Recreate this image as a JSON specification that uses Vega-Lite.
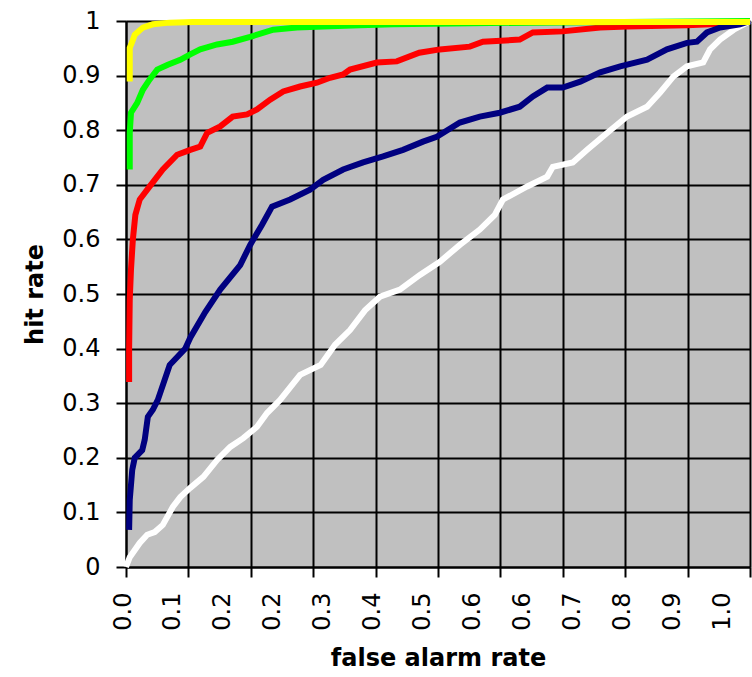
{
  "$schema": "https://vega.github.io/schema/vega-lite/v6.json",
  "width": 624,
  "height": 546,
  "autosize": {"type": "none"},
  "padding": {"left": 126, "top": 21, "right": 2, "bottom": 110},
  "background": "#ffffff",
  "config": {
    "view": {"fill": "#c0c0c0", "stroke": null},
    "axis": {
      "labelFont": "DejaVu Sans",
      "labelFontSize": 24,
      "labelColor": "#000000",
      "titleFont": "DejaVu Sans",
      "titleFontSize": 24,
      "titleFontWeight": "bold",
      "titleColor": "#000000"
    }
  },
  "data": {
    "values": [
      {"series": "red", "fpr": 0.005, "tpr": 0.339},
      {"series": "red", "fpr": 0.005, "tpr": 0.40},
      {"series": "red", "fpr": 0.006, "tpr": 0.49},
      {"series": "red", "fpr": 0.008, "tpr": 0.545},
      {"series": "red", "fpr": 0.011, "tpr": 0.60},
      {"series": "red", "fpr": 0.015, "tpr": 0.645},
      {"series": "red", "fpr": 0.022, "tpr": 0.673},
      {"series": "red", "fpr": 0.038, "tpr": 0.697},
      {"series": "red", "fpr": 0.059, "tpr": 0.728},
      {"series": "red", "fpr": 0.082, "tpr": 0.755},
      {"series": "red", "fpr": 0.103, "tpr": 0.764},
      {"series": "red", "fpr": 0.119, "tpr": 0.77},
      {"series": "red", "fpr": 0.13, "tpr": 0.795},
      {"series": "red", "fpr": 0.151, "tpr": 0.807},
      {"series": "red", "fpr": 0.171, "tpr": 0.825},
      {"series": "red", "fpr": 0.194, "tpr": 0.829},
      {"series": "red", "fpr": 0.21, "tpr": 0.838},
      {"series": "red", "fpr": 0.231, "tpr": 0.856},
      {"series": "red", "fpr": 0.252, "tpr": 0.871},
      {"series": "red", "fpr": 0.279, "tpr": 0.88},
      {"series": "red", "fpr": 0.306, "tpr": 0.887},
      {"series": "red", "fpr": 0.327, "tpr": 0.896},
      {"series": "red", "fpr": 0.348, "tpr": 0.902},
      {"series": "red", "fpr": 0.359, "tpr": 0.911},
      {"series": "red", "fpr": 0.402, "tpr": 0.924},
      {"series": "red", "fpr": 0.434, "tpr": 0.926},
      {"series": "red", "fpr": 0.47, "tpr": 0.942},
      {"series": "red", "fpr": 0.503, "tpr": 0.948},
      {"series": "red", "fpr": 0.551, "tpr": 0.953},
      {"series": "red", "fpr": 0.572, "tpr": 0.962},
      {"series": "red", "fpr": 0.631, "tpr": 0.966},
      {"series": "red", "fpr": 0.652, "tpr": 0.979},
      {"series": "red", "fpr": 0.70, "tpr": 0.981},
      {"series": "red", "fpr": 0.76, "tpr": 0.988},
      {"series": "red", "fpr": 0.803, "tpr": 0.99},
      {"series": "red", "fpr": 0.899, "tpr": 0.992},
      {"series": "red", "fpr": 0.936, "tpr": 0.994},
      {"series": "red", "fpr": 0.984, "tpr": 0.997},
      {"series": "red", "fpr": 1.0, "tpr": 1.0},

      {"series": "white", "fpr": 0.0, "tpr": 0.0},
      {"series": "white", "fpr": 0.006, "tpr": 0.018},
      {"series": "white", "fpr": 0.022, "tpr": 0.044},
      {"series": "white", "fpr": 0.034, "tpr": 0.059},
      {"series": "white", "fpr": 0.046, "tpr": 0.064},
      {"series": "white", "fpr": 0.059, "tpr": 0.077},
      {"series": "white", "fpr": 0.075, "tpr": 0.11},
      {"series": "white", "fpr": 0.087, "tpr": 0.128},
      {"series": "white", "fpr": 0.103, "tpr": 0.145},
      {"series": "white", "fpr": 0.124, "tpr": 0.165},
      {"series": "white", "fpr": 0.146, "tpr": 0.196},
      {"series": "white", "fpr": 0.167, "tpr": 0.22},
      {"series": "white", "fpr": 0.188, "tpr": 0.236},
      {"series": "white", "fpr": 0.21, "tpr": 0.257},
      {"series": "white", "fpr": 0.226, "tpr": 0.282},
      {"series": "white", "fpr": 0.247, "tpr": 0.306},
      {"series": "white", "fpr": 0.279, "tpr": 0.352},
      {"series": "white", "fpr": 0.312, "tpr": 0.37},
      {"series": "white", "fpr": 0.335, "tpr": 0.407},
      {"series": "white", "fpr": 0.359, "tpr": 0.434},
      {"series": "white", "fpr": 0.383, "tpr": 0.47},
      {"series": "white", "fpr": 0.407, "tpr": 0.495},
      {"series": "white", "fpr": 0.439, "tpr": 0.508},
      {"series": "white", "fpr": 0.471, "tpr": 0.535},
      {"series": "white", "fpr": 0.503, "tpr": 0.559},
      {"series": "white", "fpr": 0.535, "tpr": 0.59},
      {"series": "white", "fpr": 0.567, "tpr": 0.618},
      {"series": "white", "fpr": 0.591, "tpr": 0.645},
      {"series": "white", "fpr": 0.604, "tpr": 0.673},
      {"series": "white", "fpr": 0.643, "tpr": 0.697},
      {"series": "white", "fpr": 0.675, "tpr": 0.715},
      {"series": "white", "fpr": 0.684, "tpr": 0.733},
      {"series": "white", "fpr": 0.716, "tpr": 0.741},
      {"series": "white", "fpr": 0.739, "tpr": 0.764},
      {"series": "white", "fpr": 0.771, "tpr": 0.795},
      {"series": "white", "fpr": 0.803, "tpr": 0.825},
      {"series": "white", "fpr": 0.835, "tpr": 0.843},
      {"series": "white", "fpr": 0.856, "tpr": 0.869},
      {"series": "white", "fpr": 0.877, "tpr": 0.898},
      {"series": "white", "fpr": 0.899, "tpr": 0.917},
      {"series": "white", "fpr": 0.925, "tpr": 0.924},
      {"series": "white", "fpr": 0.936, "tpr": 0.948},
      {"series": "white", "fpr": 0.952, "tpr": 0.966},
      {"series": "white", "fpr": 0.974, "tpr": 0.984},
      {"series": "white", "fpr": 0.99, "tpr": 0.994},
      {"series": "white", "fpr": 1.0, "tpr": 1.0},

      {"series": "navy", "fpr": 0.005, "tpr": 0.068},
      {"series": "navy", "fpr": 0.006, "tpr": 0.123},
      {"series": "navy", "fpr": 0.01, "tpr": 0.178},
      {"series": "navy", "fpr": 0.014, "tpr": 0.2},
      {"series": "navy", "fpr": 0.026, "tpr": 0.214},
      {"series": "navy", "fpr": 0.03, "tpr": 0.233},
      {"series": "navy", "fpr": 0.035, "tpr": 0.275},
      {"series": "navy", "fpr": 0.043, "tpr": 0.288},
      {"series": "navy", "fpr": 0.051, "tpr": 0.306},
      {"series": "navy", "fpr": 0.07, "tpr": 0.37},
      {"series": "navy", "fpr": 0.095, "tpr": 0.40},
      {"series": "navy", "fpr": 0.103, "tpr": 0.42},
      {"series": "navy", "fpr": 0.127, "tpr": 0.467},
      {"series": "navy", "fpr": 0.151, "tpr": 0.508},
      {"series": "navy", "fpr": 0.183, "tpr": 0.553},
      {"series": "navy", "fpr": 0.199, "tpr": 0.59},
      {"series": "navy", "fpr": 0.218, "tpr": 0.627},
      {"series": "navy", "fpr": 0.234, "tpr": 0.66},
      {"series": "navy", "fpr": 0.263, "tpr": 0.673},
      {"series": "navy", "fpr": 0.295, "tpr": 0.691},
      {"series": "navy", "fpr": 0.316, "tpr": 0.709},
      {"series": "navy", "fpr": 0.348, "tpr": 0.728},
      {"series": "navy", "fpr": 0.38, "tpr": 0.741},
      {"series": "navy", "fpr": 0.412, "tpr": 0.752},
      {"series": "navy", "fpr": 0.444, "tpr": 0.764},
      {"series": "navy", "fpr": 0.476, "tpr": 0.779},
      {"series": "navy", "fpr": 0.498, "tpr": 0.788},
      {"series": "navy", "fpr": 0.535, "tpr": 0.814},
      {"series": "navy", "fpr": 0.567, "tpr": 0.825},
      {"series": "navy", "fpr": 0.599, "tpr": 0.832},
      {"series": "navy", "fpr": 0.631, "tpr": 0.843},
      {"series": "navy", "fpr": 0.652, "tpr": 0.862},
      {"series": "navy", "fpr": 0.675, "tpr": 0.878},
      {"series": "navy", "fpr": 0.70, "tpr": 0.878},
      {"series": "navy", "fpr": 0.728, "tpr": 0.889},
      {"series": "navy", "fpr": 0.76, "tpr": 0.906},
      {"series": "navy", "fpr": 0.792, "tpr": 0.917},
      {"series": "navy", "fpr": 0.835, "tpr": 0.929},
      {"series": "navy", "fpr": 0.867, "tpr": 0.948},
      {"series": "navy", "fpr": 0.899, "tpr": 0.96},
      {"series": "navy", "fpr": 0.915, "tpr": 0.962},
      {"series": "navy", "fpr": 0.931, "tpr": 0.979},
      {"series": "navy", "fpr": 0.952, "tpr": 0.988},
      {"series": "navy", "fpr": 0.984, "tpr": 0.994},
      {"series": "navy", "fpr": 1.0, "tpr": 1.0},

      {"series": "green", "fpr": 0.006, "tpr": 0.728},
      {"series": "green", "fpr": 0.006, "tpr": 0.795},
      {"series": "green", "fpr": 0.008, "tpr": 0.832},
      {"series": "green", "fpr": 0.018, "tpr": 0.85},
      {"series": "green", "fpr": 0.027, "tpr": 0.874},
      {"series": "green", "fpr": 0.038, "tpr": 0.893},
      {"series": "green", "fpr": 0.05, "tpr": 0.911},
      {"series": "green", "fpr": 0.067, "tpr": 0.92},
      {"series": "green", "fpr": 0.087, "tpr": 0.929},
      {"series": "green", "fpr": 0.103, "tpr": 0.939},
      {"series": "green", "fpr": 0.119, "tpr": 0.948},
      {"series": "green", "fpr": 0.146, "tpr": 0.957},
      {"series": "green", "fpr": 0.171, "tpr": 0.962},
      {"series": "green", "fpr": 0.199, "tpr": 0.971},
      {"series": "green", "fpr": 0.236, "tpr": 0.984},
      {"series": "green", "fpr": 0.274, "tpr": 0.988},
      {"series": "green", "fpr": 0.316, "tpr": 0.99},
      {"series": "green", "fpr": 0.375, "tpr": 0.992},
      {"series": "green", "fpr": 0.428, "tpr": 0.994},
      {"series": "green", "fpr": 0.647, "tpr": 0.997},
      {"series": "green", "fpr": 1.0, "tpr": 1.0},

      {"series": "yellow", "fpr": 0.006, "tpr": 0.889},
      {"series": "yellow", "fpr": 0.006, "tpr": 0.951},
      {"series": "yellow", "fpr": 0.01, "tpr": 0.962},
      {"series": "yellow", "fpr": 0.014, "tpr": 0.975},
      {"series": "yellow", "fpr": 0.027, "tpr": 0.988},
      {"series": "yellow", "fpr": 0.043, "tpr": 0.994},
      {"series": "yellow", "fpr": 0.07, "tpr": 0.997},
      {"series": "yellow", "fpr": 0.107, "tpr": 0.998},
      {"series": "yellow", "fpr": 0.5, "tpr": 0.998},
      {"series": "yellow", "fpr": 1.0, "tpr": 0.998}
    ]
  },
  "resolve": {"axis": {"x": "independent", "y": "shared"}, "scale": {"x": "shared", "y": "shared"}},
  "layer": [
    {
      "mark": {"type": "line", "strokeWidth": 6, "interpolate": "linear"},
      "encoding": {
        "x": {
          "field": "fpr",
          "type": "quantitative",
          "scale": {"domain": [0, 1], "nice": false, "zero": false},
          "axis": {
            "orient": "bottom",
            "values": [0, 0.1, 0.2, 0.3, 0.4, 0.5, 0.6, 0.7, 0.8, 0.9, 1.0],
            "labels": false,
            "ticks": true,
            "tickSize": 10,
            "tickWidth": 2,
            "tickColor": "#000000",
            "domain": true,
            "domainColor": "#000000",
            "domainWidth": 2,
            "grid": true,
            "gridColor": "#000000",
            "gridWidth": 2,
            "gridOpacity": 1,
            "title": null
          }
        },
        "y": {
          "field": "tpr",
          "type": "quantitative",
          "scale": {"domain": [0, 1], "nice": false, "zero": false},
          "axis": {
            "orient": "left",
            "values": [0, 0.1, 0.2, 0.3, 0.4, 0.5, 0.6, 0.7, 0.8, 0.9, 1.0],
            "labelExpr": "datum.value == 0 ? '0' : datum.value == 1 ? '1' : format(datum.value, '.1f')",
            "tickSize": 10,
            "tickWidth": 2,
            "tickColor": "#000000",
            "labelPadding": 16,
            "domain": true,
            "domainColor": "#000000",
            "domainWidth": 2,
            "grid": true,
            "gridColor": "#000000",
            "gridWidth": 2,
            "gridOpacity": 1,
            "title": "hit rate",
            "titlePadding": 14
          }
        },
        "color": {
          "field": "series",
          "type": "nominal",
          "scale": {
            "domain": ["red", "white", "navy", "green", "yellow"],
            "range": ["#ff0000", "#ffffff", "#000080", "#00ff00", "#ffff00"]
          },
          "legend": null
        },
        "order": {"value": null}
      }
    },
    {
      "mark": {"type": "point", "opacity": 0},
      "encoding": {
        "x": {
          "field": "fpr",
          "type": "quantitative",
          "scale": {"domain": [0, 1], "nice": false, "zero": false},
          "axis": {
            "orient": "bottom",
            "values": [0, 0.08, 0.16, 0.24, 0.32, 0.4, 0.48, 0.56, 0.64, 0.72, 0.8, 0.88, 0.96],
            "labelExpr": "format(datum.value, '.1f')",
            "labelAngle": -90,
            "labelPadding": 25,
            "labelOffset": -3,
            "labelOverlap": false,
            "ticks": false,
            "domain": false,
            "grid": false,
            "title": "false alarm rate",
            "titlePadding": 16
          }
        }
      }
    }
  ]
}
